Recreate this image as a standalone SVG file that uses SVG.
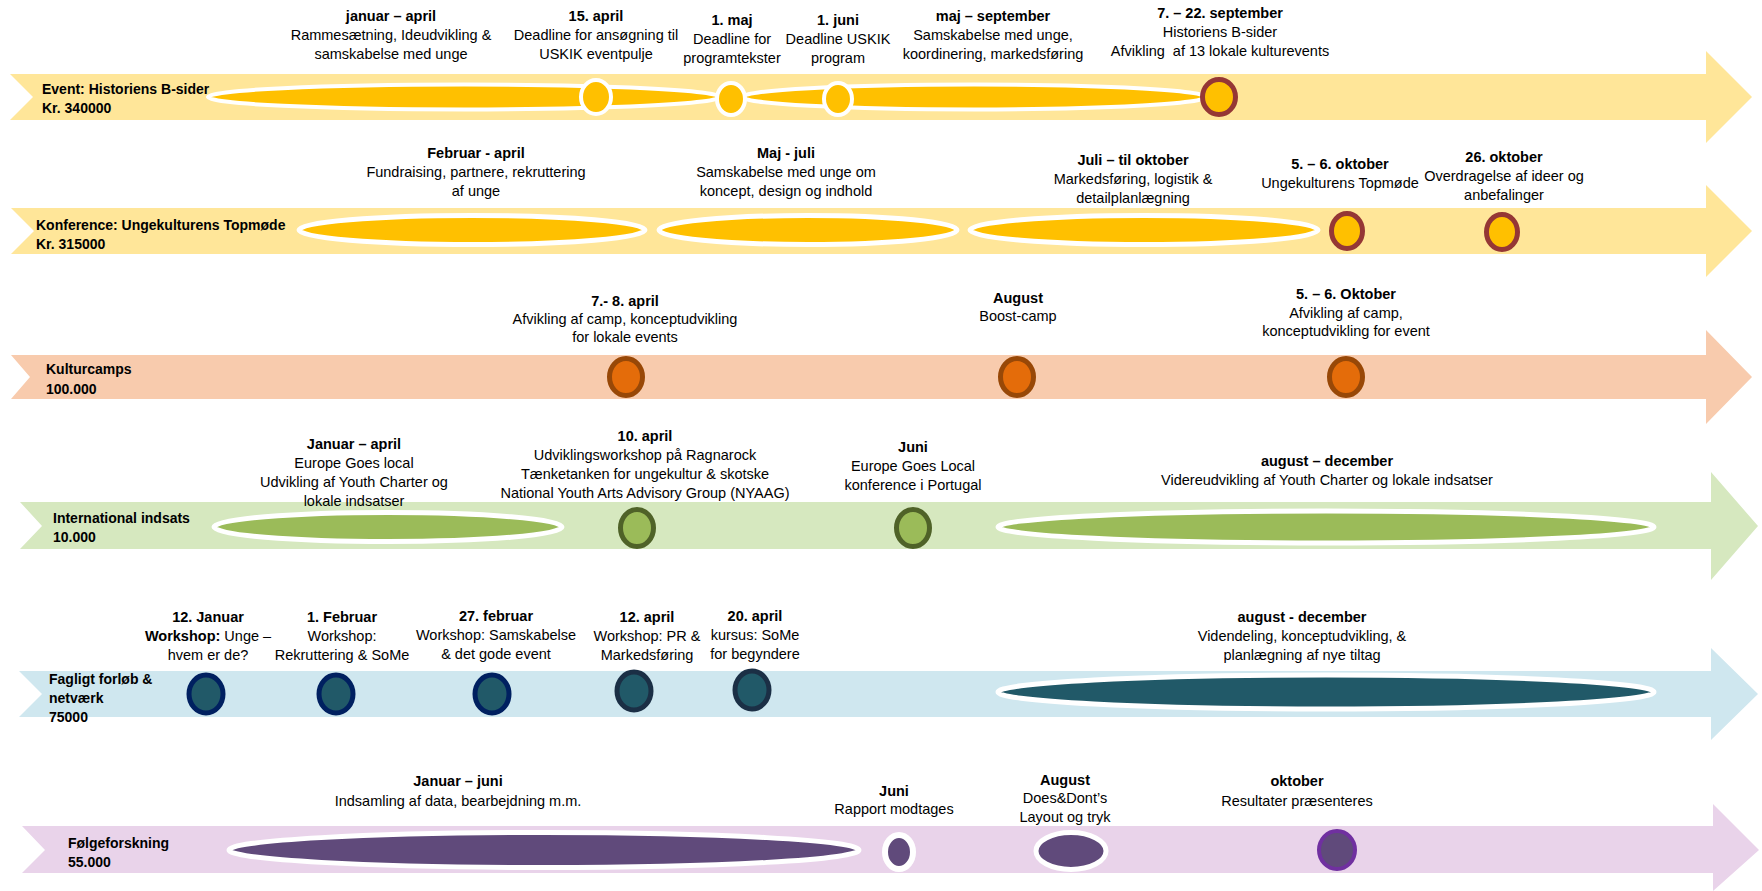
<svg xmlns="http://www.w3.org/2000/svg" width="1762" height="891" viewBox="0 0 1762 891">
<style>
.t{font-family:"Liberation Sans",Arial,sans-serif;font-size:14.5px;fill:#000;text-anchor:middle}
.b{font-weight:bold}
.lbl{font-family:"Liberation Sans",Arial,sans-serif;font-size:14px;font-weight:bold;fill:#000}
.yb{fill:#FFE699}.ob{fill:#F8CBAD}.gb{fill:#D6E8BF}.bb{fill:#CFE7EF}.pb{fill:#E9D3EA}
.ye{fill:#FFC000;stroke:#fff;stroke-width:4}
.yc{fill:#FFC000;stroke:#953735;stroke-width:5}
.oc{fill:#E46C0A;stroke:#984807;stroke-width:5}
.ge{fill:#9BBB59;stroke:#fff;stroke-width:5}
.gc{fill:#9BBB59;stroke:#4F6228;stroke-width:5}
.tc1{fill:#215968;stroke:#002060;stroke-width:5}
.tc2{fill:#215968;stroke:#1B2F45;stroke-width:5}
.te{fill:#215968;stroke:#fff;stroke-width:5}
.pe{fill:#604A7B;stroke:#fff;stroke-width:5}
.pc{fill:#604A7B;stroke:#7030A0;stroke-width:4}
</style>
<rect width="1762" height="891" fill="#fff"/>

<!-- Row 1 -->
<g id="row-event">
<path class="yb" d="M10,74 L1706,74 L1706,51 L1752,97 L1706,143 L1706,120 L10,120 L33,97 Z"/>
<text class="lbl" x="42" y="94">Event: Historiens B-sider</text>
<text class="lbl" x="42" y="113">Kr. 340000</text>
<ellipse class="ye" cx="464" cy="97" rx="256" ry="12.5"/>
<ellipse class="ye" cx="974" cy="97" rx="232" ry="12.5"/>
<ellipse class="ye" cx="596" cy="97" rx="15" ry="17"/>
<ellipse class="ye" cx="731" cy="99" rx="14" ry="16"/>
<ellipse class="ye" cx="838" cy="99" rx="14" ry="16"/>
<ellipse class="yc" cx="1219" cy="97" rx="16.5" ry="17.5"/>
</g>
<g id="row-event-texts">
<text class="t" x="391" y="21"><tspan class="b">januar – april</tspan><tspan x="391" dy="19">Rammesætning, Ideudvikling &amp;</tspan><tspan x="391" dy="19">samskabelse med unge</tspan></text>
<text class="t" x="596" y="21"><tspan class="b">15. april</tspan><tspan x="596" dy="19">Deadline for ansøgning til</tspan><tspan x="596" dy="19">USKIK eventpulje</tspan></text>
<text class="t" x="732" y="25"><tspan class="b">1. maj</tspan><tspan x="732" dy="19">Deadline for</tspan><tspan x="732" dy="19">programtekster</tspan></text>
<text class="t" x="838" y="25"><tspan class="b">1. juni</tspan><tspan x="838" dy="19">Deadline USKIK</tspan><tspan x="838" dy="19">program</tspan></text>
<text class="t" x="993" y="21"><tspan class="b">maj – september</tspan><tspan x="993" dy="19">Samskabelse med unge,</tspan><tspan x="993" dy="19">koordinering, markedsføring</tspan></text>
<text class="t" x="1220" y="18" xml:space="preserve"><tspan class="b">7. – 22. september</tspan><tspan x="1220" dy="19">Historiens B-sider</tspan><tspan x="1220" dy="19">Afvikling  af 13 lokale kulturevents</tspan></text>
</g>

<!-- Row 2 -->
<g id="row-konference">
<path class="yb" d="M11,208 L1706,208 L1706,185 L1752,231 L1706,277 L1706,254 L11,254 L34,231 Z"/>
<text class="lbl" x="36" y="230">Konference: Ungekulturens Topmøde</text>
<text class="lbl" x="36" y="249">Kr. 315000</text>
<ellipse class="ye" cx="472" cy="230" rx="173" ry="14.5" style="stroke-width:5"/>
<ellipse class="ye" cx="808" cy="230" rx="149" ry="14.5" style="stroke-width:5"/>
<ellipse class="ye" cx="1144" cy="230" rx="174" ry="14.5" style="stroke-width:5"/>
<ellipse class="yc" cx="1347" cy="231" rx="15.5" ry="17.5"/>
<ellipse class="yc" cx="1502" cy="232" rx="15.5" ry="17.5"/>
</g>
<g id="row-konference-texts">
<text class="t" x="476" y="158"><tspan class="b">Februar - april</tspan><tspan x="476" dy="19">Fundraising, partnere, rekruttering</tspan><tspan x="476" dy="19">af unge</tspan></text>
<text class="t" x="786" y="158"><tspan class="b">Maj - juli</tspan><tspan x="786" dy="19">Samskabelse med unge om</tspan><tspan x="786" dy="19">koncept, design og indhold</tspan></text>
<text class="t" x="1133" y="165"><tspan class="b">Juli – til oktober</tspan><tspan x="1133" dy="19">Markedsføring, logistik &amp;</tspan><tspan x="1133" dy="19">detailplanlægning</tspan></text>
<text class="t" x="1340" y="169"><tspan class="b">5. – 6. oktober</tspan><tspan x="1340" dy="19">Ungekulturens Topmøde</tspan></text>
<text class="t" x="1504" y="162"><tspan class="b">26. oktober</tspan><tspan x="1504" dy="19">Overdragelse af ideer og</tspan><tspan x="1504" dy="19">anbefalinger</tspan></text>
</g>

<!-- Row 3 -->
<g id="row-kulturcamps">
<path class="ob" d="M11,355 L1706,355 L1706,330 L1752,377 L1706,424 L1706,399 L11,399 L30,377 Z"/>
<text class="lbl" x="46" y="374">Kulturcamps</text>
<text class="lbl" x="46" y="394">100.000</text>
<ellipse class="oc" cx="626" cy="377" rx="16.5" ry="18.5"/>
<ellipse class="oc" cx="1017" cy="377" rx="16.5" ry="18.5"/>
<ellipse class="oc" cx="1346" cy="377" rx="16.5" ry="18.5"/>
</g>
<g id="row-kulturcamps-texts">
<text class="t" x="625" y="306"><tspan class="b">7.- 8. april</tspan><tspan x="625" dy="18">Afvikling af camp, konceptudvikling</tspan><tspan x="625" dy="18">for lokale events</tspan></text>
<text class="t" x="1018" y="303"><tspan class="b">August</tspan><tspan x="1018" dy="18">Boost-camp</tspan></text>
<text class="t" x="1346" y="299"><tspan class="b">5. – 6. Oktober</tspan><tspan x="1346" dy="19">Afvikling af camp,</tspan><tspan x="1346" dy="18">konceptudvikling for event</tspan></text>
</g>

<!-- Row 4 -->
<g id="row-international">
<path class="gb" d="M20,502 L1711,502 L1711,472 L1758,526 L1711,580 L1711,549 L20,549 L42,526 Z"/>
<text class="lbl" x="53" y="523">International indsats</text>
<text class="lbl" x="53" y="542">10.000</text>
<ellipse class="ge" cx="388" cy="527" rx="174" ry="14.5"/>
<ellipse class="gc" cx="637" cy="528" rx="16.5" ry="18.5"/>
<ellipse class="gc" cx="913" cy="528" rx="16.5" ry="18.5"/>
<ellipse class="ge" cx="1326" cy="527" rx="328" ry="16"/>
</g>
<g id="row-international-texts">
<text class="t" x="354" y="449"><tspan class="b">Januar – april</tspan><tspan x="354" dy="19">Europe Goes local</tspan><tspan x="354" dy="19">Udvikling af Youth Charter og</tspan><tspan x="354" dy="19">lokale indsatser</tspan></text>
<text class="t" x="645" y="441"><tspan class="b">10. april</tspan><tspan x="645" dy="19">Udviklingsworkshop på Ragnarock</tspan><tspan x="645" dy="19">Tænketanken for ungekultur &amp; skotske</tspan><tspan x="645" dy="19">National Youth Arts Advisory Group (NYAAG)</tspan></text>
<text class="t" x="913" y="452"><tspan class="b">Juni</tspan><tspan x="913" dy="19">Europe Goes Local</tspan><tspan x="913" dy="19">konference i Portugal</tspan></text>
<text class="t" x="1327" y="466"><tspan class="b">august – december</tspan><tspan x="1327" dy="19">Videreudvikling af Youth Charter og lokale indsatser</tspan></text>
</g>

<!-- Row 5 -->
<g id="row-fagligt">
<path class="bb" d="M19,671 L1711,671 L1711,648 L1758,694 L1711,740 L1711,717 L19,717 L42,694 Z"/>
<text class="lbl" x="49" y="684">Fagligt forløb &amp;</text>
<text class="lbl" x="49" y="703">netværk</text>
<text class="lbl" x="49" y="722">75000</text>
<ellipse class="tc1" cx="206" cy="694" rx="17" ry="19"/>
<ellipse class="tc1" cx="336" cy="694" rx="17" ry="19"/>
<ellipse class="tc1" cx="492" cy="694" rx="17" ry="19"/>
<ellipse class="tc2" cx="634" cy="691" rx="17" ry="19"/>
<ellipse class="tc2" cx="752" cy="690" rx="17" ry="19"/>
<ellipse class="te" cx="1326" cy="692" rx="328" ry="17"/>
</g>
<g id="row-fagligt-texts">
<text class="t" x="208" y="622"><tspan class="b">12. Januar</tspan><tspan x="208" dy="19"><tspan class="b">Workshop:</tspan> Unge –</tspan><tspan x="208" dy="19">hvem er de?</tspan></text>
<text class="t" x="342" y="622"><tspan class="b">1. Februar</tspan><tspan x="342" dy="19">Workshop:</tspan><tspan x="342" dy="19">Rekruttering &amp; SoMe</tspan></text>
<text class="t" x="496" y="621"><tspan class="b">27. februar</tspan><tspan x="496" dy="19">Workshop: Samskabelse</tspan><tspan x="496" dy="19">&amp; det gode event</tspan></text>
<text class="t" x="647" y="622"><tspan class="b">12. april</tspan><tspan x="647" dy="19">Workshop: PR &amp;</tspan><tspan x="647" dy="19">Markedsføring</tspan></text>
<text class="t" x="755" y="621"><tspan class="b">20. april</tspan><tspan x="755" dy="19">kursus: SoMe</tspan><tspan x="755" dy="19">for begyndere</tspan></text>
<text class="t" x="1302" y="622"><tspan class="b">august - december</tspan><tspan x="1302" dy="19">Videndeling, konceptudvikling, &amp;</tspan><tspan x="1302" dy="19">planlægning af nye tiltag</tspan></text>
</g>

<!-- Row 6 -->
<g id="row-folgeforskning">
<path class="pb" d="M22,826 L1713,826 L1713,804 L1759,850 L1713,891 L1713,873 L22,873 L45,850 Z"/>
<text class="lbl" x="68" y="848">Følgeforskning</text>
<text class="lbl" x="68" y="867">55.000</text>
<ellipse class="pe" cx="544" cy="850" rx="315" ry="17.5"/>
<ellipse class="pe" cx="899" cy="852" rx="14" ry="17" style="stroke-width:6"/>
<ellipse class="pe" cx="1071" cy="851" rx="35" ry="18.5"/>
<ellipse class="pc" cx="1337" cy="850" rx="18" ry="19"/>
</g>
<g id="row-folgeforskning-texts">
<text class="t" x="458" y="786"><tspan class="b">Januar – juni</tspan><tspan x="458" dy="20">Indsamling af data, bearbejdning m.m.</tspan></text>
<text class="t" x="894" y="796"><tspan class="b">Juni</tspan><tspan x="894" dy="18">Rapport modtages</tspan></text>
<text class="t" x="1065" y="785"><tspan class="b">August</tspan><tspan x="1065" dy="18">Does&amp;Dont’s</tspan><tspan x="1065" dy="19">Layout og tryk</tspan></text>
<text class="t" x="1297" y="786"><tspan class="b">oktober</tspan><tspan x="1297" dy="20">Resultater præsenteres</tspan></text>
</g>

<g id="connectors"></g>
</svg>
